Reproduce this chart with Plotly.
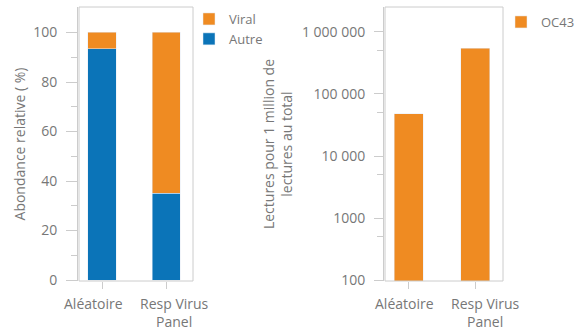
import plotly.graph_objects as go

categories = ["Aléatoire", "Resp Virus<br>Panel"]
autre_pct = [93.5, 35.1]
viral_pct = [6.5, 64.9]
oc43_reads = [48000, 550000]
left_ticks = [0, 20, 40, 60, 80, 100]
left_minor = [10, 30, 50, 70, 90]
right_tickvals = [100, 1000, 10000, 100000, 1000000]
right_ticktext = ["100", "1000", "10 000", "100 000", "1 000 000"]
right_minor = [500, 5000, 50000, 500000]

ORANGE = "#EF8B22"
BLUE = "#0B74B8"
GRAY = "#777777"
FRAME = "#CCCCCC"
FONT = "Open Sans"

W, H = 578, 331
xl = [79 / W, 193 / W]
xr = [385 / W, 503 / W]
yd = [1 - 281 / H, 1 - 7 / H]

fig = go.Figure()
fig.add_trace(go.Bar(x=[0, 1], y=autre_pct, name="Autre", marker_color=BLUE,
                     width=0.44, xaxis="x", yaxis="y", legendrank=2))
fig.add_trace(go.Bar(x=[0, 1], y=viral_pct, name="Viral", marker_color=ORANGE,
                     width=0.44, xaxis="x", yaxis="y", legendrank=1))
fig.add_trace(go.Bar(x=[0, 1], y=oc43_reads, name="OC43", marker_color=ORANGE,
                     width=0.44, xaxis="x2", yaxis="y2", legend="legend2"))

common_x = dict(range=[-0.36, 1.42], tickvals=[0, 1], showticklabels=False,
                ticks="outside", ticklen=7, tickcolor=FRAME, showgrid=False,
                zeroline=False, automargin=False)

fig.update_layout(
    width=W, height=H, margin=dict(l=0, r=0, t=0, b=0, autoexpand=False),
    barmode="stack", plot_bgcolor="white", paper_bgcolor="white",
    font=dict(family=FONT, color=GRAY, size=13),
    xaxis=dict(domain=xl, anchor="y", **common_x),
    yaxis=dict(domain=yd, range=[-0.4, 110.3], tickvals=left_ticks, ticks="outside",
               ticklen=11, tickcolor=FRAME, showgrid=False, zeroline=False,
               anchor="free", position=77 / W, showline=True, linecolor=FRAME,
               tickfont=dict(size=14), ticklabelstandoff=6, automargin=False,
               minor=dict(tickvals=left_minor, ticks="outside", ticklen=6, tickcolor=FRAME),
               title=dict(text="Abondance relative ( %)", font=dict(size=14), standoff=3)),
    xaxis2=dict(domain=xr, anchor="y2", **common_x),
    yaxis2=dict(domain=yd, type="log", range=[1.984, 6.403], tickvals=right_tickvals,
                ticktext=right_ticktext, ticks="outside", ticklen=9, tickcolor=FRAME,
                showgrid=False, zeroline=False, anchor="free", position=383 / W,
                showline=True, linecolor=FRAME, tickfont=dict(size=14),
                ticklabelstandoff=6, automargin=False,
                minor=dict(tickvals=right_minor, ticks="outside", ticklen=6, tickcolor=FRAME),
                title=dict(text="Lectures pour 1 million de<br>lectures au total",
                           font=dict(size=14), standoff=4)),
    legend=dict(x=189 / W, y=1 - 4 / H, xanchor="left", yanchor="top",
                font=dict(size=13), traceorder="normal", itemwidth=30,
                bgcolor="rgba(0,0,0,0)", tracegroupgap=0),
    legend2=dict(x=501 / W, y=1 - 7 / H, xanchor="left", yanchor="top",
                 font=dict(size=13), itemwidth=30, bgcolor="rgba(0,0,0,0)"),
)

for xa, ya in [("x", "y"), ("x2", "y2")]:
    fig.add_shape(type="rect", xref=f"{xa} domain", yref=f"{ya} domain",
                  x0=0, x1=1, y0=0, y1=1, line=dict(color=FRAME, width=1), layer="above")

# x category labels (slightly offset from ticks as in the reference)
label_offsets = {"x": [-9, 8], "x2": [-4, 10]}
for xa, ya in [("x", "y"), ("x2", "y2")]:
    for i, cat in enumerate(categories):
        fig.add_annotation(x=i, y=0, xref=xa, yref=f"{ya} domain", text=cat,
                           showarrow=False, xanchor="center", yanchor="top",
                           xshift=label_offsets[xa][i], yshift=-11,
                           font=dict(size=14, color=GRAY), align="center")

fig.write_html("out.html")
